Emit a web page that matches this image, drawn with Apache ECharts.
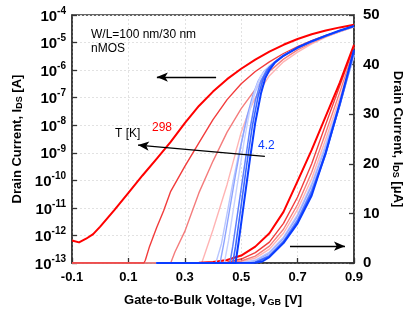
<!DOCTYPE html>
<html>
<head>
<meta charset="utf-8">
<script src="https://cdn.jsdelivr.net/npm/echarts@6/dist/echarts.min.js"></script>
<style>html,body{margin:0;padding:0;background:#fff}#c{width:415px;height:312px}</style>
</head>
<body>
<div id="c"></div>
<script>
// ---- Data (V_GB in V) ----
const xTicks = [-0.1, 0.1, 0.3, 0.5, 0.7, 0.9];
const curveNames = ['298 K', 'T2', 'T3', 'T4', 'T5', 'T6', 'T7', 'T8', 'T9', '4.2 K'];
const curveColors = ['#ff0000', '#f23c3c', '#f47c7c', '#ffb4b4', '#b9c6ff', '#8ea4ff', '#c7d1ff', '#5f80ff', '#3a66ff', '#0a3cff'];
const curveWidths = [2, 1.4, 1.4, 1.4, 1.4, 1.4, 1.4, 1.5, 1.6, 2];

// Log panel: I_DS in A (left axis)
const log298 = [[-0.1,6.6e-13],[-0.075,5.6e-13],[-0.05,7.6e-13],[-0.025,1.12e-12],[0,2.1e-12],[0.05,8.3e-12],[0.1,3.5e-11],[0.15,1.5e-10],[0.2,6.0e-10],[0.25,2.5e-9],[0.3,1.2e-8],[0.35,5.0e-8],[0.4,1.66e-7],[0.45,4.7e-7],[0.5,1.12e-6],[0.55,2.4e-6],[0.6,4.7e-6],[0.65,8.3e-6],[0.7,1.35e-5],[0.75,2.0e-5],[0.8,2.75e-5],[0.85,3.55e-5],[0.9,4.4e-5]];
const logT2 = [[-0.1,1e-13],[0.155,1e-13],[0.16,1.26e-13],[0.175,4.0e-13],[0.2,1.9e-12],[0.225,7.9e-12],[0.25,4.0e-11],[0.3,3.2e-10],[0.35,2.3e-9],[0.4,1.6e-8],[0.45,8.5e-8],[0.5,3.2e-7],[0.55,8.9e-7],[0.6,2.0e-6],[0.65,4.0e-6],[0.7,7.1e-6],[0.75,1.17e-5],[0.8,1.82e-5],[0.85,2.6e-5],[0.9,3.8e-5]];
const logT3 = [[-0.1,1e-13],[0.25,1e-13],[0.265,2.5e-13],[0.3,1.4e-12],[0.35,3.5e-11],[0.4,5.0e-10],[0.45,5.6e-9],[0.5,4.0e-8],[0.55,2.0e-7],[0.6,8.9e-7],[0.65,2.5e-6],[0.7,5.4e-6],[0.75,1.0e-5],[0.8,1.66e-5],[0.85,2.5e-5],[0.9,3.7e-5]];
const logT4 = [[-0.1,1e-13],[0.36,1e-13],[0.37,2.0e-13],[0.4,1.6e-12],[0.45,7.1e-11],[0.5,5.6e-9],[0.525,2.8e-8],[0.55,1.0e-7],[0.6,6.3e-7],[0.65,2.0e-6],[0.7,4.5e-6],[0.75,8.9e-6],[0.8,1.58e-5],[0.85,2.5e-5],[0.9,3.7e-5]];
const logT5 = [[0.2,1e-13],[0.41,1e-13],[0.43,5.0e-13],[0.45,6.3e-12],[0.47,7.9e-11],[0.49,7.9e-10],[0.51,6.3e-9],[0.53,4.0e-8],[0.55,1.6e-7],[0.57,4.5e-7],[0.6,1.26e-6],[0.65,3.4e-6],[0.7,6.3e-6],[0.75,1.07e-5],[0.8,1.7e-5],[0.85,2.57e-5],[0.9,3.7e-5]];
const logT6 = [[0.2,1e-13],[0.425,1e-13],[0.44,6.3e-13],[0.46,1.0e-11],[0.48,1.6e-10],[0.5,2.0e-9],[0.52,2.0e-8],[0.54,1.12e-7],[0.56,4.0e-7],[0.58,8.9e-7],[0.6,1.41e-6],[0.65,3.5e-6],[0.7,6.5e-6],[0.75,1.1e-5],[0.8,1.74e-5],[0.85,2.63e-5],[0.9,3.8e-5]];
const logT7 = [[0.2,1e-13],[0.44,1e-13],[0.455,6.3e-13],[0.47,6.3e-12],[0.49,1.26e-10],[0.51,2.5e-9],[0.53,3.2e-8],[0.55,2.0e-7],[0.57,6.3e-7],[0.6,1.41e-6],[0.65,3.5e-6],[0.7,6.5e-6],[0.75,1.1e-5],[0.8,1.74e-5],[0.85,2.63e-5],[0.9,3.8e-5]];
const logT8 = [[0.2,1e-13],[0.46,1e-13],[0.47,4.0e-13],[0.49,1.0e-11],[0.51,2.5e-10],[0.53,6.3e-9],[0.55,7.9e-8],[0.57,4.0e-7],[0.59,1.0e-6],[0.62,2.0e-6],[0.65,3.4e-6],[0.7,6.5e-6],[0.75,1.1e-5],[0.8,1.74e-5],[0.85,2.7e-5],[0.9,3.9e-5]];
const logT9 = [[0.2,1e-13],[0.47,1e-13],[0.48,4.0e-13],[0.5,1.26e-11],[0.52,4.0e-10],[0.54,1.0e-8],[0.56,1.12e-7],[0.58,5.6e-7],[0.6,1.26e-6],[0.63,2.4e-6],[0.65,3.3e-6],[0.7,6.5e-6],[0.75,1.1e-5],[0.8,1.74e-5],[0.85,2.7e-5],[0.9,3.9e-5]];
const log4K = [[0.2,1e-13],[0.48,1e-13],[0.49,5.0e-13],[0.51,1.6e-11],[0.53,5.0e-10],[0.55,1.26e-8],[0.57,1.41e-7],[0.585,5.0e-7],[0.6,1.0e-6],[0.62,1.9e-6],[0.65,3.3e-6],[0.7,6.6e-6],[0.75,1.12e-5],[0.8,1.78e-5],[0.85,2.75e-5],[0.9,4.0e-5]];

// Linear panel: I_DS in uA (right axis)
const lin298 = [[0.2,0],[0.35,0.05],[0.4,0.2],[0.45,0.6],[0.5,1.5],[0.55,3.3],[0.6,6.0],[0.65,10.3],[0.7,16.5],[0.75,22.8],[0.8,29.6],[0.85,36.4],[0.9,44.0]];
const linT2 = [[0.2,0],[0.4,0],[0.45,0.15],[0.5,0.8],[0.55,2.1],[0.6,4.2],[0.65,8.0],[0.7,13.3],[0.75,20.0],[0.8,28.0],[0.85,35.8],[0.9,43.6]];
const linT3 = [[0.2,0],[0.45,0.05],[0.5,0.4],[0.55,1.4],[0.6,3.4],[0.65,6.8],[0.7,11.8],[0.75,18.3],[0.8,26.3],[0.85,34.5],[0.9,43.0]];
const linT4 = [[0.2,0],[0.475,0],[0.5,0.2],[0.55,1.0],[0.6,2.8],[0.65,6.0],[0.7,10.8],[0.75,17.0],[0.8,25.0],[0.85,33.3],[0.9,42.0]];
const linT5 = [[0.2,0],[0.5,0.05],[0.55,0.6],[0.6,2.2],[0.65,5.2],[0.7,9.8],[0.75,16.0],[0.8,24.0],[0.85,32.5],[0.9,41.6]];
const linT6 = [[0.2,0],[0.52,0],[0.55,0.4],[0.6,1.9],[0.65,4.9],[0.7,9.4],[0.75,15.5],[0.8,23.3],[0.85,32.0],[0.9,41.8]];
const linT7 = [[0.2,0],[0.52,0],[0.55,0.3],[0.6,1.7],[0.65,4.6],[0.7,9.0],[0.75,15.0],[0.8,22.8],[0.85,31.8],[0.9,42.0]];
const linT8 = [[0.2,0],[0.53,0],[0.55,0.2],[0.6,1.5],[0.65,4.4],[0.7,8.7],[0.75,14.6],[0.8,22.4],[0.85,31.8],[0.9,42.4]];
const linT9 = [[0.2,0],[0.535,0],[0.55,0.1],[0.6,1.3],[0.65,4.2],[0.7,8.3],[0.75,14.1],[0.8,22.0],[0.85,32.0],[0.9,42.7]];
const lin4K = [[0.2,0],[0.55,0.05],[0.575,0.3],[0.6,1.2],[0.65,4.0],[0.7,8.0],[0.75,13.6],[0.8,22.3],[0.85,32.3],[0.9,43.0]];

const logCurves = [log298, logT2, logT3, logT4, logT5, logT6, logT7, logT8, logT9, log4K];
const linCurves = [lin298, linT2, linT3, linT4, linT5, linT6, linT7, linT8, linT9, lin4K];

// Annotation arrows (data coords)
const arrowLeft = [[0.411, 5.6e-7], [0.201, 5.6e-7]];
const arrowT = [[0.584, 7.4e-10], [0.134, 1.9e-9]];
const arrowRight = [[0.673, 3.4], [0.868, 3.4]];

const FONT = 'Liberation Sans, Arial, Helvetica, sans-serif';
const chart = echarts.init(document.getElementById('c'), null, {renderer: 'canvas'});

const series = [];
const order = [3, 2, 1, 0, 4, 5, 6, 7, 8, 9];
order.forEach(function (i) {
  series.push({
    name: curveNames[i] + ' lin', type: 'line', xAxisIndex: 0, yAxisIndex: 1,
    data: linCurves[i], showSymbol: false, smooth: false,
    lineStyle: {color: curveColors[i], width: curveWidths[i], join: 'round'}, z: 2
  });
  series.push({
    name: curveNames[i] + ' log', type: 'line', xAxisIndex: 0, yAxisIndex: 0,
    data: logCurves[i], showSymbol: false, smooth: false,
    lineStyle: {color: curveColors[i], width: curveWidths[i], join: 'round'}, z: 2
  });
});

function arrowLine(pts, yIdx) {
  return {
    type: 'line', xAxisIndex: 0, yAxisIndex: yIdx, data: [], z: 5,
    markLine: {
      silent: true, animation: false,
      symbol: ['none', 'arrow'], symbolSize: [7, 11],
      label: {show: false},
      lineStyle: {color: '#000', width: 1.3, type: 'solid'},
      data: [[{coord: pts[0]}, {coord: pts[1]}]]
    }
  };
}
series.push(arrowLine(arrowLeft, 0));
series.push(arrowLine(arrowT, 0));
series.push(arrowLine(arrowRight, 1));

const nameRich = {
  a: {fontFamily: FONT, fontWeight: 'bold', fontSize: 13, color: '#000'},
  sub: {fontFamily: FONT, fontWeight: 'bold', fontSize: 9, color: '#000', verticalAlign: 'bottom', padding: [5, 0, 0, 0]}
};
const gridLine = {show: true, lineStyle: {color: '#e2e2e2', type: [2, 2], width: 1}};

const option = {
  animation: false,
  backgroundColor: '#fff',
  grid: {left: 72, right: 61, top: 15, bottom: 49, containLabel: false, outerBoundsMode: 'none',
    show: true, borderColor: '#333', borderWidth: 1.5, backgroundColor: 'transparent'},
  xAxis: {
    type: 'value', min: -0.1, max: 0.9, interval: 0.2,
    name: '{a|Gate-to-Bulk Voltage, V}{sub|GB}{a| [V]}', nameLocation: 'middle', nameGap: 30,
    nameTextStyle: {rich: nameRich},
    axisLine: {onZero: false, lineStyle: {color: '#333', width: 1.5}},
    axisTick: {inside: true, length: 5, lineStyle: {color: '#333', width: 1.3}},
    axisLabel: {fontFamily: FONT, fontWeight: 'bold', fontSize: 13, color: '#000', margin: 8,
      formatter: function (v) { return v.toFixed(1); }},
    splitLine: gridLine
  },
  yAxis: [{
    type: 'log', logBase: 10, min: 1e-13, max: 1e-4, splitNumber: 9,
    name: '{a|Drain Current, I}{sub|DS}{a| [A]}', nameLocation: 'middle', nameGap: 47,
    nameTextStyle: {rich: nameRich},
    axisLine: {show: true, onZero: false, lineStyle: {color: '#333', width: 1.5}},
    axisTick: {show: true, inside: true, length: 5, lineStyle: {color: '#333', width: 1.3}},
    axisLabel: {margin: 6,
      formatter: function (v) { return '{b|10}{s|' + Math.round(Math.log10(v)) + '}'; },
      rich: {
        b: {fontFamily: FONT, fontWeight: 'bold', fontSize: 15, color: '#000', verticalAlign: 'bottom'},
        s: {fontFamily: FONT, fontWeight: 'bold', fontSize: 10, color: '#000', verticalAlign: 'top', padding: [0, 0, 8, 0]}
      }},
    splitLine: gridLine
  }, {
    type: 'value', min: 0, max: 50, interval: 10, position: 'right',
    name: '{a|Drain Current, I}{sub|DS}{a| [μA]}', nameLocation: 'middle', nameGap: 30, nameRotate: -90,
    nameTextStyle: {rich: nameRich},
    axisLine: {show: true, onZero: false, lineStyle: {color: '#333', width: 1.5}},
    axisTick: {show: true, inside: true, length: 5, lineStyle: {color: '#333', width: 1.3}},
    axisLabel: {fontFamily: FONT, fontWeight: 'bold', fontSize: 15, color: '#000', margin: 9},
    splitLine: {show: false}
  }],
  graphic: [
    {type: 'text', left: 91, top: 29, z: 10, style: {text: 'W/L=100 nm/30 nm', font: '12px ' + FONT, fill: '#000'}},
    {type: 'text', left: 91, top: 43, z: 10, style: {text: 'nMOS', font: '12px ' + FONT, fill: '#000'}},
    {type: 'text', left: 115, top: 128, z: 10, style: {text: 'T [K]', font: '12px ' + FONT, fill: '#000'}},
    {type: 'text', left: 152, top: 122, z: 10, style: {text: '298', font: '12px ' + FONT, fill: '#ff0000'}},
    {type: 'text', left: 258, top: 140, z: 10, style: {text: '4.2', font: '12px ' + FONT, fill: '#0a3cff'}}
  ],
  series: series
};
chart.setOption(option);
</script>
</body>
</html>
